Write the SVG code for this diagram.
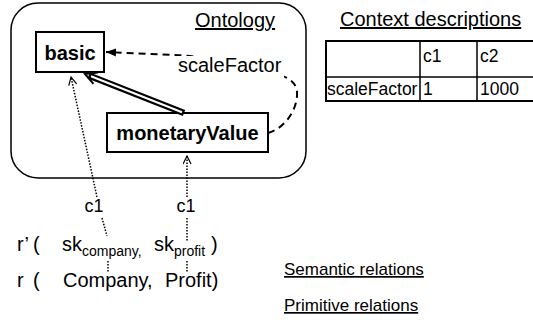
<svg xmlns="http://www.w3.org/2000/svg" width="533" height="323" viewBox="0 0 533 323">
  <style>
    text { font-family: "Liberation Sans", Arial, sans-serif; fill: #000; }
    .title { font-size: 20px; text-decoration: underline; }
    .node-box { fill: #fff; stroke: #000; stroke-width: 2; }
    .node-label { font-size: 20px; font-weight: bold; text-anchor: middle; }
    .cell { font-size: 17.5px; }
    .rel { font-size: 20px; }
    .sub { font-size: 14px; }
    .legend { font-size: 17px; text-decoration: underline; }
    .edge-label { font-size: 18px; text-anchor: middle; }
    .dashed { fill: none; stroke: #000; stroke-width: 2; stroke-dasharray: 7 5; }
    .dotted { fill: none; stroke: #000; stroke-width: 1.5; stroke-dasharray: 1.5 1.5; }
    .grid { fill: none; stroke: #000; stroke-width: 1.5; }
  </style>
  <defs>
    <marker id="head-filled" markerUnits="userSpaceOnUse" markerWidth="11" markerHeight="9" refX="10" refY="4.5" orient="auto">
      <path d="M0,0.5 L10,4.5 L0,8.5 z" fill="#000"/>
    </marker>
    <marker id="head-open" markerUnits="userSpaceOnUse" markerWidth="10" markerHeight="10" refX="8.5" refY="4.5" orient="auto">
      <path d="M0.5,0.5 L8.5,4.5 L0.5,8.5" fill="none" stroke="#000" stroke-width="1.2"/>
    </marker>
  </defs>

  <!-- ontology frame -->
  <g id="ontology">
    <rect x="11" y="3" width="295" height="175" rx="27" ry="27" fill="none" stroke="#000" stroke-width="1.5"/>
    <text class="title" x="195" y="27">Ontology</text>
  </g>

  <g id="basic">
    <rect class="node-box" x="36" y="32" width="68" height="40"/>
    <text class="node-label" x="70" y="60">basic</text>
  </g>

  <g id="monetaryValue">
    <rect class="node-box" x="107" y="113" width="161" height="39"/>
    <text class="node-label" x="187.5" y="140">monetaryValue</text>
  </g>

  <!-- context table -->
  <g id="context-descriptions">
    <text class="title" x="340" y="26">Context descriptions</text>
    <rect x="326" y="41" width="220" height="60" fill="none" stroke="#000" stroke-width="2"/>
    <line class="grid" x1="326" y1="77" x2="546" y2="77"/>
    <line class="grid" x1="420" y1="41" x2="420" y2="101"/>
    <line class="grid" x1="477" y1="41" x2="477" y2="101"/>
    <text class="cell" x="423" y="62">c1</text>
    <text class="cell" x="480" y="62">c2</text>
    <text class="cell" x="327" y="95">scaleFactor</text>
    <text class="cell" x="423" y="95">1</text>
    <text class="cell" x="480" y="95">1000</text>
  </g>

  <g id="connectors">
    <!-- generalization: monetaryValue is a basic -->
    <g id="is-a">
      <line x1="184" y1="113" x2="88.7" y2="75.4" stroke="#000" stroke-width="6.5"/>
      <line x1="182" y1="112.2" x2="91" y2="76.3" stroke="#fff" stroke-width="2"/>
      <path d="M97.9,72.5 L85,74 L93.5,83.8" fill="none" stroke="#000" stroke-width="2"/>
    </g>
    <!-- scaleFactor modifier -->
    <g id="scaleFactor">
      <path class="dashed" d="M268,133 C286,128 298,108 297,92 C296,80 285,76 270,72 C240,62 200,56 175,55 L106,52" marker-end="url(#head-filled)"/>
      <rect x="176" y="56" width="108" height="22" fill="#fff"/>
      <text x="178" y="72" font-size="20">scaleFactor</text>
    </g>
    <!-- context annotations -->
    <path class="dotted" d="M97,197 L71,77" marker-end="url(#head-open)"/>
    <path class="dotted" d="M187,197 L187,156" marker-end="url(#head-open)"/>
    <text class="edge-label" x="94" y="212">c1</text>
    <text class="edge-label" x="186" y="212">c1</text>
    <path class="dotted" d="M102,218 L107,236"/>
    <path class="dotted" d="M187,218 L187,242"/>
    <path class="dotted" d="M108,261 L108,272"/>
    <path class="dotted" d="M187,261 L187,272"/>
  </g>

  <g id="semantic-relation">
    <text class="rel" y="251"><tspan x="17">r’</tspan><tspan x="33">(</tspan><tspan x="62">sk</tspan><tspan class="sub" dy="5">company,</tspan><tspan x="154" dy="-5">sk</tspan><tspan class="sub" dy="5">profit</tspan><tspan x="211" dy="-5">)</tspan></text>
  </g>

  <g id="primitive-relation">
    <text class="rel" y="287"><tspan x="17">r</tspan><tspan x="33">(</tspan><tspan x="63">Company,</tspan><tspan x="165">Profit)</tspan></text>
  </g>

  <g id="legend">
    <text class="legend" x="284" y="275">Semantic relations</text>
    <text class="legend" x="284" y="311">Primitive relations</text>
  </g>
</svg>
